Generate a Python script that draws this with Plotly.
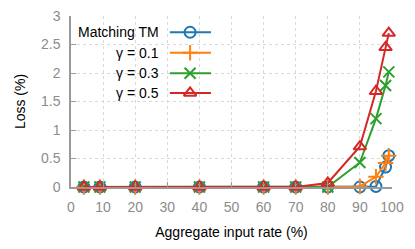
import plotly.graph_objects as go

x_rate = [4, 9, 20, 40, 60, 70, 80, 90, 95, 98, 99]
loss_matching = [0, 0, 0, 0, 0, 0, 0, 0, 0.01, 0.35, 0.55]
loss_g01 = [0, 0, 0, 0, 0, 0, 0, 0.01, 0.18, 0.42, 0.55]
loss_g03 = [0, 0, 0, 0, 0, 0, 0, 0.43, 1.2, 1.78, 2.02]
loss_g05 = [0, 0, 0, 0, 0, 0, 0.07, 0.71, 1.68, 2.45, 2.7]

names = ["Matching TM", "γ = 0.1", "γ = 0.3", "γ = 0.5"]
colors = ["#1f77b4", "#ff7f0e", "#2ca02c", "#d62728"]
symbols = ["circle-open", "cross-thin-open", "x-thin-open", "triangle-up-open"]
series = [loss_matching, loss_g01, loss_g03, loss_g05]

fig = go.Figure()
for name, c, s, ys in zip(names, colors, symbols, series):
    fig.add_trace(go.Scatter(
        x=x_rate, y=ys, mode="lines+markers", name=name,
        line=dict(color=c, width=2),
        marker=dict(symbol=s, size=11, color=c, line=dict(color=c, width=2)),
        cliponaxis=False, showlegend=False))

# custom legend: text on the left, sample on the right
leg_y = [0.905, 0.785, 0.665, 0.55]
for i, (name, c, s) in enumerate(zip(names, colors, symbols)):
    fig.add_trace(go.Scatter(
        x=[0.308, 0.371, 0.436], y=[leg_y[i]] * 3, xaxis="x2", yaxis="y2",
        mode="lines", line=dict(color=c, width=2), showlegend=False, hoverinfo="skip"))
    fig.add_trace(go.Scatter(
        x=[0.371], y=[leg_y[i]], xaxis="x2", yaxis="y2",
        mode="markers", marker=dict(symbol=s, size=11, color=c, line=dict(color=c, width=2)),
        showlegend=False, hoverinfo="skip", cliponaxis=False))
    fig.add_annotation(x=0.28, y=leg_y[i], xref="x2 domain", yref="y2",
                       text=name, showarrow=False, xanchor="right", yanchor="middle",
                       font=dict(size=14, color="black"))

axis_common = dict(
    showline=True, linecolor="#999999", linewidth=1.5,
    ticks="inside", ticklen=5, tickcolor="#999999",
    tickfont=dict(size=14, color="#8c8c8c"),
    showgrid=True, gridcolor="#d9d9d9", griddash="dot", gridwidth=1,
    zeroline=False, automargin=False, ticklabeloverflow="allow",
)

# page body has an 8px default margin; figure is sized to fit the window
fig.update_layout(
    width=407, height=241,
    margin=dict(l=63, r=23, t=8, b=62),
    paper_bgcolor="white", plot_bgcolor="white",
    font=dict(family="Liberation Sans, Arial, sans-serif", size=14, color="black"),
    xaxis=dict(range=[0, 100], dtick=10, tick0=0,
               title=dict(text="Aggregate input rate (%)", standoff=14,
                          font=dict(size=14, color="black")),
               ticklabelstandoff=6, **axis_common),
    yaxis=dict(range=[0, 3], dtick=0.5, tick0=0,
               title=dict(text="Loss (%)", standoff=12,
                          font=dict(size=14, color="black")),
               ticklabelstandoff=6, **axis_common),
    xaxis2=dict(overlaying="x", range=[0, 1], visible=False, fixedrange=True),
    yaxis2=dict(overlaying="y", range=[0, 1], visible=False, fixedrange=True),
    showlegend=False,
)

fig.write_html("out.html")
